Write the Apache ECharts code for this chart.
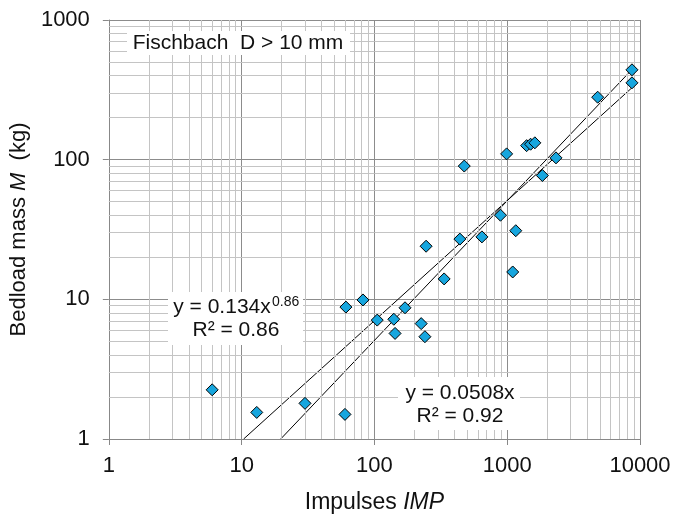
<!DOCTYPE html>
<html>
<head>
<meta charset="utf-8">
<script src="https://cdn.jsdelivr.net/npm/echarts@6/dist/echarts.min.js"></script>
<style>
html,body{margin:0;padding:0;background:#fff;}
#main{width:677px;height:519px;}
</style>
</head>
<body>
<div id="main"></div>
<script>
// Messwerte Fischbach, D > 10 mm
var impulses = [6, 13, 30, 60, 61, 82, 105, 140, 143, 170, 225, 240, 245, 335, 440, 475, 645, 890, 990, 1100, 1160, 1400, 1500, 1615, 1840, 2330, 4800, 8700, 8700];
var masses = [2.25, 1.55, 1.8, 1.5, 8.8, 9.9, 7.1, 7.2, 5.7, 8.7, 6.7, 5.4, 24, 14, 27, 90, 28, 40, 110, 15.7, 31, 126, 129, 132, 77, 103, 280, 440, 355];

// Trendlinien (aus den Gleichungen im Bild)
var powA = 0.134, powB = 0.86;
var linA = 0.0508;
var xTicks = [1, 10, 100, 1000, 10000];
var yTicks = [1, 10, 100, 1000];
var minorSteps = [2, 3, 4, 5, 6, 7, 8, 9];

var font = "'Liberation Sans', Arial, sans-serif";

var points = [];
for (var i = 0; i < impulses.length; i++) points.push([impulses[i], masses[i]]);

var xMax = Math.max.apply(null, impulses);
// Linien beginnen dort, wo y = 1 (Achsenminimum)
var powLine = [[Math.pow(1 / powA, 1 / powB), 1], [xMax, powA * Math.pow(xMax, powB)]];
var linLine = [[1 / linA, 1], [xMax, linA * xMax]];

// Nebengitter bei 2..9 je Dekade
var minorLines = [];
xTicks.slice(0, -1).forEach(function (d) {
    minorSteps.forEach(function (k) { minorLines.push({xAxis: d * k}); });
});
yTicks.slice(0, -1).forEach(function (d) {
    minorSteps.forEach(function (k) { minorLines.push({yAxis: d * k}); });
});

function plain(v) { return String(v); }

var Mychart = echarts.init(document.getElementById("main"));
var option = {
    animation: false,
    textStyle: {fontFamily: font},
    grid: {left: 106, right: 37, top: 20, bottom: 79},
    xAxis: {
        type: "log", logBase: 10, min: 1, max: 10000,
        name: "{n|Impulses }{i|IMP}",
        nameLocation: "middle", nameGap: 52,
        nameTextStyle: {rich: {
            n: {fontSize: 23, color: "#111", fontFamily: font},
            i: {fontSize: 23, color: "#111", fontStyle: "italic", fontFamily: font}
        }},
        axisLine: {lineStyle: {color: "#888", width: 1}},
        axisTick: {show: true, inside: false, length: 6, lineStyle: {color: "#888"}},
        axisLabel: {fontSize: 22, color: "#111", margin: 16, fontFamily: font, formatter: plain},
        splitLine: {show: true, lineStyle: {color: "#8c8c8c", width: 1}}
    },
    yAxis: {
        type: "log", logBase: 10, min: 1, max: 1000,
        name: "{n|Bedload mass }{i|M}{n|  (kg)}",
        nameLocation: "middle", nameGap: 76, nameRotate: 90,
        nameTextStyle: {rich: {
            n: {fontSize: 22, color: "#111", fontFamily: font},
            i: {fontSize: 22, color: "#111", fontStyle: "italic", fontFamily: font}
        }},
        axisLine: {show: true, lineStyle: {color: "#888", width: 1}},
        axisTick: {show: true, inside: false, length: 6, lineStyle: {color: "#888"}},
        axisLabel: {fontSize: 22, color: "#111", margin: 19, fontFamily: font, formatter: plain},
        splitLine: {show: true, lineStyle: {color: "#8c8c8c", width: 1}}
    },
    series: [
        {
            name: "grid", type: "line", data: [], z: 1, silent: true,
            markLine: {
                silent: true, symbol: "none", animation: false,
                label: {show: false},
                lineStyle: {color: "#c4c4c4", width: 1, type: "solid"},
                data: minorLines
            }
        },
        {
            name: "power", type: "line", data: powLine, showSymbol: false, symbol: "none",
            lineStyle: {color: "#000", width: 1}, z: 3, silent: true
        },
        {
            name: "linear", type: "line", data: linLine, showSymbol: false, symbol: "none",
            lineStyle: {color: "#000", width: 1}, z: 3, silent: true
        },
        {
            name: "Fischbach", type: "scatter", data: points,
            symbol: "diamond", symbolSize: 12,
            itemStyle: {color: "#17a6de", borderColor: "#000", borderWidth: 1, opacity: 1},
            z: 5
        }
    ],
    graphic: [
        {type: "rect", shape: {x: 127, y: 31, width: 223, height: 24}, style: {fill: "#fff"}, z: 10},
        {type: "text", x: 238, y: 43, z: 11, style: {text: "Fischbach  D > 10 mm", font: "21px " + font, fill: "#111", textAlign: "center", textVerticalAlign: "middle"}},

        {type: "rect", shape: {x: 168, y: 292, width: 135, height: 53}, style: {fill: "#fff"}, z: 10},
        {type: "text", x: 222, y: 307, z: 11, style: {text: "y = 0.134x", font: "21px " + font, fill: "#111", textAlign: "center", textVerticalAlign: "middle"}},
        {type: "text", x: 272, y: 302, z: 11, style: {text: "0.86", font: "14px " + font, fill: "#111", textAlign: "left", textVerticalAlign: "middle"}},
        {type: "text", x: 236, y: 330, z: 11, style: {text: "R² = 0.86", font: "21px " + font, fill: "#111", textAlign: "center", textVerticalAlign: "middle"}},

        {type: "rect", shape: {x: 398, y: 377, width: 122, height: 53}, style: {fill: "#fff"}, z: 10},
        {type: "text", x: 460, y: 393, z: 11, style: {text: "y = 0.0508x", font: "21px " + font, fill: "#111", textAlign: "center", textVerticalAlign: "middle"}},
        {type: "text", x: 460, y: 416, z: 11, style: {text: "R² = 0.92", font: "21px " + font, fill: "#111", textAlign: "center", textVerticalAlign: "middle"}}
    ]
};
Mychart.setOption(option);
</script>
</body>
</html>
